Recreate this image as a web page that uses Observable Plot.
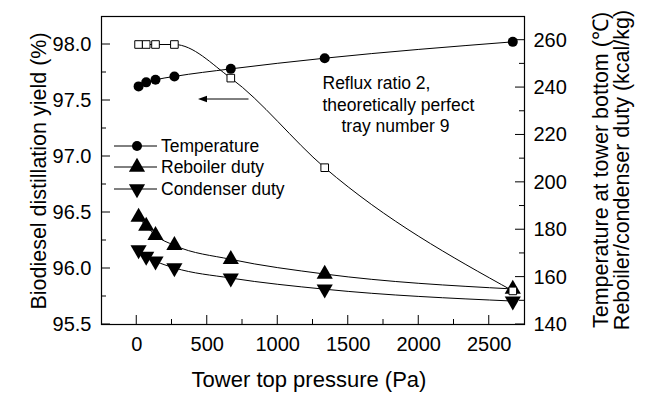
<!DOCTYPE html>
<html><head><meta charset="utf-8">
<script src="https://cdn.jsdelivr.net/npm/d3@7"></script>
<script src="https://cdn.jsdelivr.net/npm/@observablehq/plot@0.6"></script>
<style>
body{margin:0;background:#fff;font-family:"Liberation Sans",Arial,sans-serif;}
#wrap{position:relative;width:650px;height:396px;}
#wrap > svg{display:block;}
.lbl{position:absolute;white-space:nowrap;color:#000;line-height:1;font-family:"Liberation Sans",Arial,sans-serif;}
#ov{position:absolute;left:0;top:0;pointer-events:none;}
</style></head><body><div id="wrap"></div>
<script>
// Data (x: tower top pressure, Pa)
const pressure    = [13, 67, 133, 267, 667, 1333, 2667];
const yieldPct    = [98.0, 98.0, 98.0, 98.0, 97.7, 96.9, 95.8];      // left axis (%)
const temperature = [240.5, 242.2, 243.3, 244.7, 247.9, 252.4, 259.3]; // right axis (°C)
const reboiler    = [185.3, 181.5, 177.6, 173.4, 167.5, 161.3, 155.0]; // right axis (kcal/kg)
const condenser   = [171.5, 168.7, 166.7, 163.9, 159.6, 154.9, 149.9]; // right axis (kcal/kg)

const xMajor = [0, 500, 1000, 1500, 2000, 2500];
const xMinor = [250, 750, 1250, 1750, 2250];
const leftMajor = [95.5, 96.0, 96.5, 97.0, 97.5, 98.0];
const leftMinor = [95.75, 96.25, 96.75, 97.25, 97.75];
const rightMajor = [140, 160, 180, 200, 220, 240, 260];
const rightMinor = [150, 170, 190, 210, 230, 250];

const leftDomain = [95.5, 98.25];
const rightDomain = [140, 270];
const toLeft = v => leftDomain[0] + (v - rightDomain[0]) * (leftDomain[1] - leftDomain[0]) / (rightDomain[1] - rightDomain[0]);
const fromLeft = v => rightDomain[0] + (v - leftDomain[0]) * (rightDomain[1] - rightDomain[0]) / (leftDomain[1] - leftDomain[0]);

const yieldData = pressure.map((p, i) => ({x: p, y: yieldPct[i]}));
const tempData  = pressure.map((p, i) => ({x: p, y: toLeft(temperature[i])}));
const rebData   = pressure.map((p, i) => ({x: p, y: toLeft(reboiler[i])}));
const conData   = pressure.map((p, i) => ({x: p, y: toLeft(condenser[i])}));

const LW = 1;

const plot = Plot.plot({
  width: 650, height: 396,
  marginLeft: 101, marginRight: 126, marginTop: 16, marginBottom: 72,
  style: {fontSize: "20px", fontFamily: "'Liberation Sans', Arial, sans-serif", color: "#000", background: "#fff"},
  x: {domain: [-250, 2750]},
  y: {domain: leftDomain},
  marks: [
    Plot.axisX({ticks: xMajor, tickSize: 0, tickPadding: 12, label: null, tickFormat: d => String(d)}),
    Plot.axisY({ticks: leftMajor, tickSize: 0, tickPadding: 10, label: null, tickFormat: d => d.toFixed(1)}),
    Plot.axisY({anchor: "right", ticks: rightMajor.map(toLeft), tickSize: 0, tickPadding: 9, label: null, tickFormat: d => String(Math.round(fromLeft(d)))}),
    Plot.frame({stroke: "#000", strokeWidth: 1.2}),
    Plot.line(yieldData, {x: "x", y: "y", curve: "monotone-x", stroke: "#000", strokeWidth: LW}),
    Plot.line(tempData,  {x: "x", y: "y", curve: "monotone-x", stroke: "#000", strokeWidth: LW}),
    Plot.line(rebData,   {x: "x", y: "y", curve: "monotone-x", stroke: "#000", strokeWidth: LW}),
    Plot.line(conData,   {x: "x", y: "y", curve: "monotone-x", stroke: "#000", strokeWidth: LW}),
    Plot.dot(tempData, {x: "x", y: "y", r: 5, fill: "#000", stroke: "none"}),
    Plot.dot(rebData,  {x: "x", y: "y", r: 6, symbol: "triangle", fill: "#000", stroke: "none"}),
    Plot.dot(conData,  {x: "x", y: "y", r: 6, symbol: "triangle", rotate: 180, fill: "#000", stroke: "none"}),
    Plot.dot(yieldData, {x: "x", y: "y", r: 4.3, symbol: "square", fill: "#fff", stroke: "#000", strokeWidth: 1})
  ]
});

const wrap = document.getElementById("wrap");
wrap.appendChild(plot);

const sx = plot.scale("x"), sy = plot.scale("y");
const [fx0, fx1] = sx.range, [fy0, fy1] = sy.range; // fy0 = bottom, fy1 = top

const ov = d3.select(wrap).append("svg").attr("id", "ov").attr("width", 650).attr("height", 396)
  .attr("font-family", "'Liberation Sans', Arial, sans-serif");

// inward ticks, positioned with Plot's own scales
const tk = ov.append("g").attr("stroke", "#000").attr("stroke-width", LW);
function xt(vals, len) { vals.forEach(v => { const px = sx.apply(v); tk.append("line").attr("x1", px).attr("x2", px).attr("y1", fy0).attr("y2", fy0 - len); }); }
function ylt(vals, len) { vals.forEach(v => { const py = sy.apply(v); tk.append("line").attr("x1", fx0).attr("x2", fx0 + len).attr("y1", py).attr("y2", py); }); }
function yrt(vals, len) { vals.forEach(v => { const py = sy.apply(toLeft(v)); tk.append("line").attr("x1", fx1).attr("x2", fx1 - len).attr("y1", py).attr("y2", py); }); }
xt(xMajor, 9); xt(xMinor, 5);
ylt(leftMajor, 9); ylt(leftMinor, 5);
yrt(rightMajor, 9); yrt(rightMinor, 5);

// legend
const legendItems = [
  {name: "Temperature", sym: "circle", y: 146},
  {name: "Reboiler duty", sym: "up", y: 167},
  {name: "Condenser duty", sym: "down", y: 189}
];
legendItems.forEach(it => {
  ov.append("line").attr("x1", 114).attr("x2", 157).attr("y1", it.y).attr("y2", it.y).attr("stroke", "#000").attr("stroke-width", LW);
  if (it.sym === "circle") ov.append("circle").attr("cx", 137).attr("cy", it.y).attr("r", 5).attr("fill", "#000");
  else {
    const s = d3.symbol(d3.symbolTriangle, Math.PI * 36)();
    ov.append("path").attr("d", s).attr("transform", `translate(137,${it.y})` + (it.sym === "down" ? " rotate(180)" : "")).attr("fill", "#000");
  }
  ov.append("text").attr("x", 161).attr("y", it.y).attr("dy", "0.35em").attr("text-anchor", "start").attr("font-size", "17.5px").attr("fill", "#000").text(it.name);
});
// annotation
const ann = [
  {t: "Reflux ratio 2,", x: 322.5, y: 89.3},
  {t: "theoretically perfect", x: 322.5, y: 111},
  {t: "tray number 9", x: 341.5, y: 132}
];
ann.forEach(a => ov.append("text").attr("x", a.x).attr("y", a.y).attr("text-anchor", "start").attr("font-size", "17.5px").attr("fill", "#000").text(a.t));
// arrow pointing left (toward the yield axis)
ov.append("line").attr("x1", 248.5).attr("x2", 205).attr("y1", 99).attr("y2", 99).attr("stroke", "#000").attr("stroke-width", LW);
ov.append("path").attr("d", "M198,99 L207,95.8 L207,102.2 Z").attr("fill", "#000");

function addLabel(text, cx, cy, size, rotate) {
  const d = document.createElement("div");
  d.className = "lbl";
  d.textContent = text;
  d.style.fontSize = size + "px";
  d.style.left = cx + "px";
  d.style.top = cy + "px";
  d.style.transform = "translate(-50%,-50%)" + (rotate ? " rotate(-90deg)" : "");
  wrap.appendChild(d);
}
addLabel("Tower top pressure (Pa)", 309, 380, 22, false);
addLabel("Biodiesel distillation yield (%)", 40, 170.5, 21.5, true);
addLabel("Temperature at tower bottom (\u2103)", 601.5, 170, 21.5, true);
addLabel("Reboiler/condenser duty (kcal/kg)", 623, 170, 21.5, true);
</script>
</body></html>
